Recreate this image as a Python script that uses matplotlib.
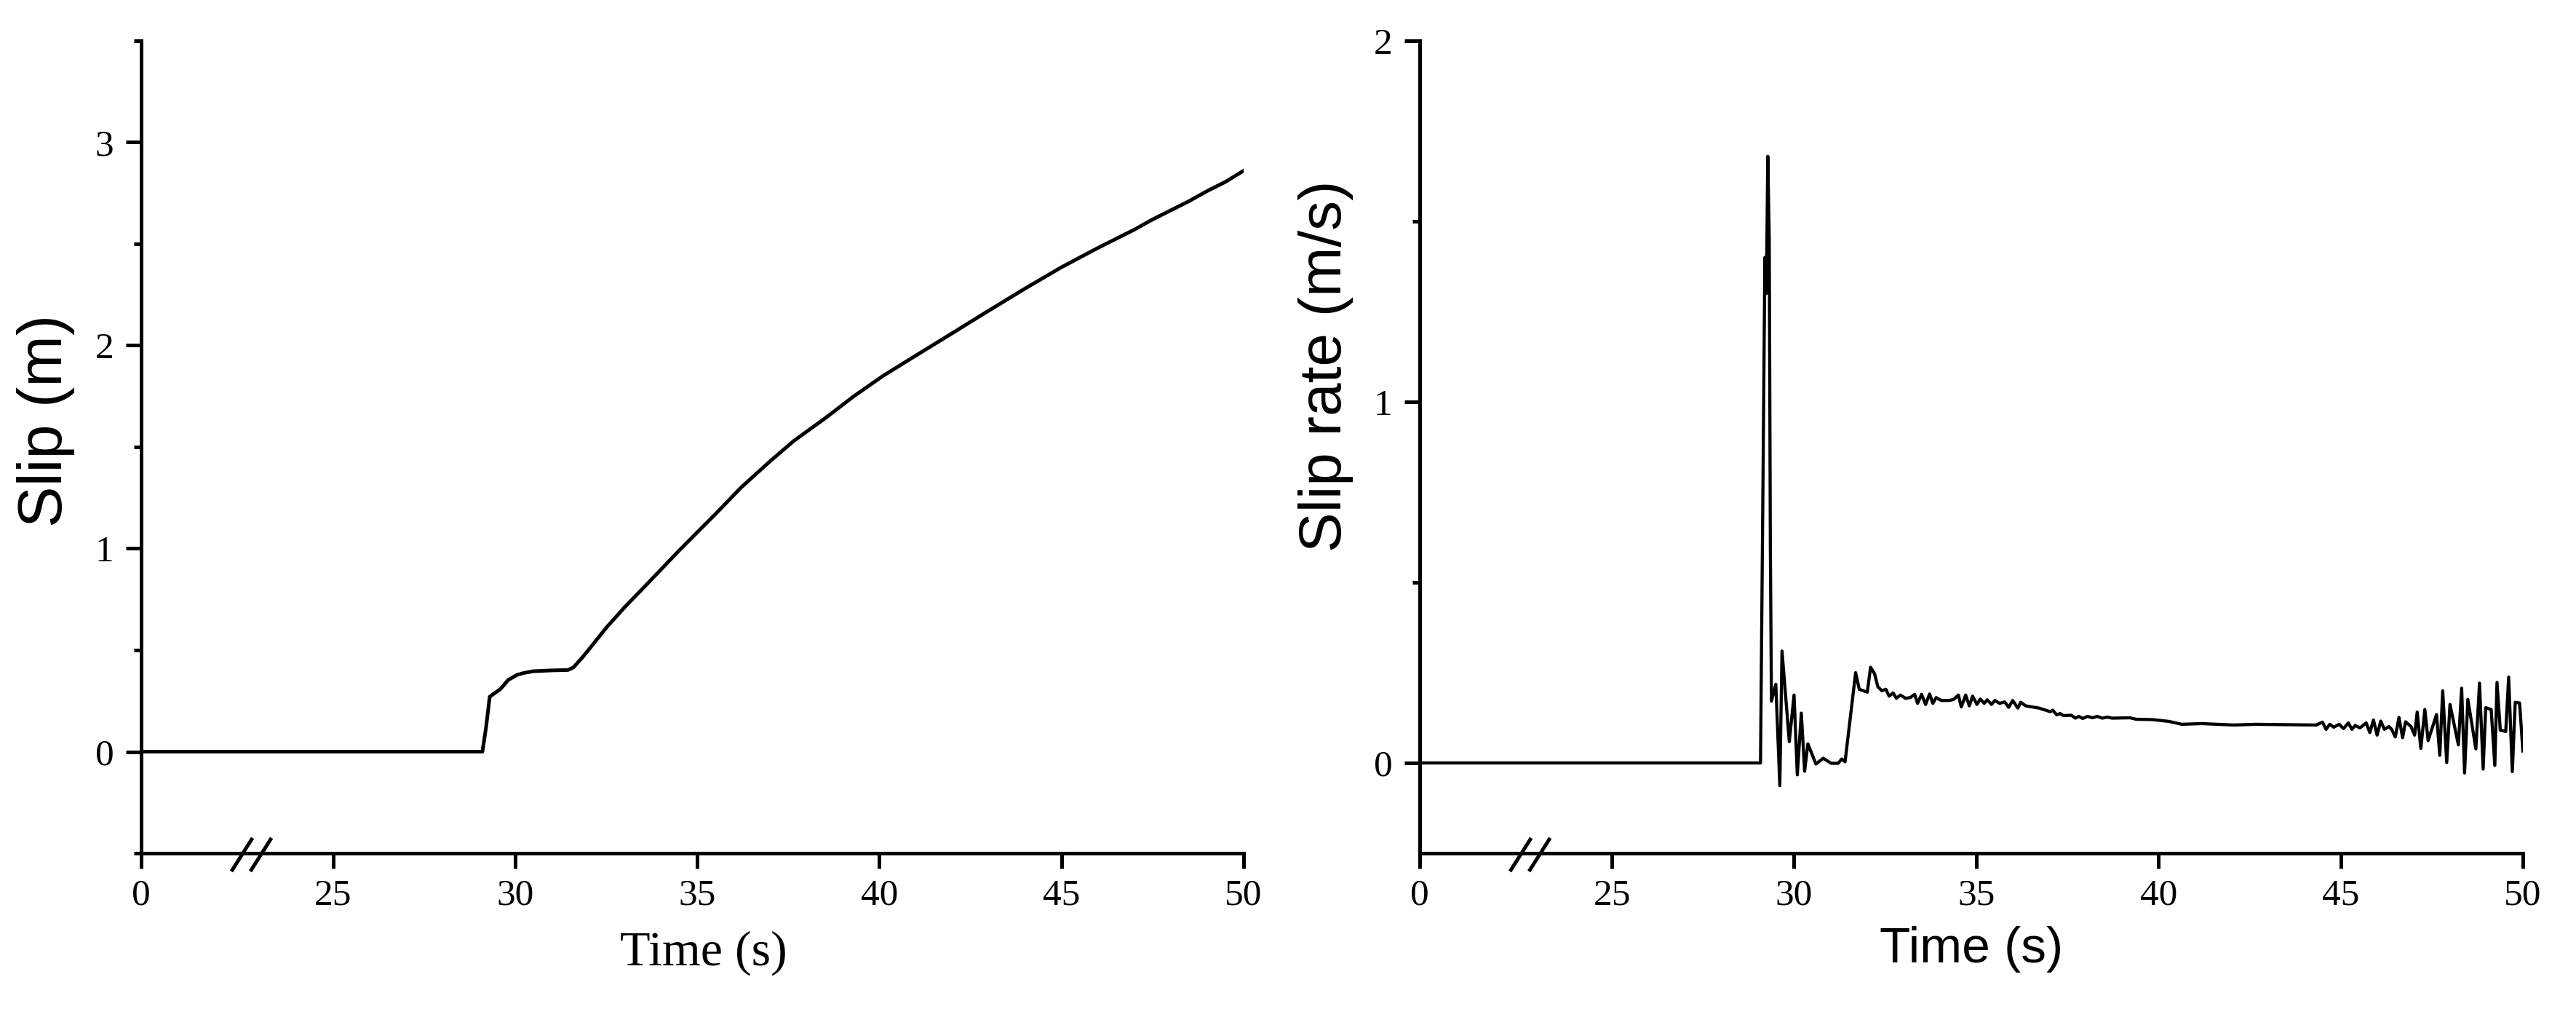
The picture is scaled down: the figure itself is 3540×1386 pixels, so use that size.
import numpy as np
import matplotlib
matplotlib.use("Agg")
import matplotlib.pyplot as plt
from matplotlib.ticker import MultipleLocator, FixedLocator

# Slip (m) vs time (s)
slip_t = [0, 29.10, 29.20, 29.30, 29.45, 29.58, 29.70, 29.80, 30.05, 30.25,
          30.50, 31.00, 31.45, 31.60, 31.85, 32.10, 32.50, 33.00, 33.70, 34.50,
          35.00, 35.50, 36.20, 37.00, 37.65, 38.50, 39.30, 40.10, 41.00, 42.00,
          42.90, 44.00, 45.00, 46.00, 47.00, 47.50, 48.00, 48.50, 49.00, 49.50,
          50.00]
slip_m = [0, 0, 0.12, 0.27, 0.29, 0.306, 0.33, 0.352, 0.378, 0.388,
          0.396, 0.400, 0.402, 0.415, 0.465, 0.52, 0.61, 0.71, 0.84, 0.99,
          1.08, 1.17, 1.30, 1.43, 1.53, 1.64, 1.75, 1.85, 1.95, 2.06,
          2.16, 2.28, 2.385, 2.48, 2.57, 2.62, 2.665, 2.71, 2.76, 2.805,
          2.86]

# Slip rate (m/s) vs time (s)
rate_t = [0, 29.08, 29.15, 29.20, 29.24, 29.28, 29.32, 29.35, 29.38, 29.50,
          29.61, 29.67, 29.87, 30.00, 30.09, 30.20, 30.29, 30.38, 30.60, 30.80,
          31.02, 31.21, 31.31, 31.40, 31.69, 31.79, 32.01, 32.10, 32.21, 32.30,
          32.41, 32.52, 32.61, 32.72, 32.81, 32.92, 33.06, 33.19, 33.31, 33.39,
          33.50, 33.61, 33.72, 33.81, 33.90, 34.04, 34.26, 34.38, 34.51, 34.59,
          34.71, 34.81, 34.90, 35.02, 35.11, 35.22, 35.30, 35.42, 35.51, 35.64,
          35.78, 35.89, 36.00, 36.14, 36.22, 36.36, 36.72, 37.03, 37.10, 37.21,
          37.30, 37.39, 37.61, 37.72, 37.82, 37.92, 38.05, 38.19, 38.32, 38.46,
          38.60, 38.72, 39.22, 39.39, 39.84, 40.29, 40.64, 41.18, 41.63, 42.07,
          42.67, 44.33, 44.50, 44.60, 44.70, 44.81, 44.96, 45.08, 45.21, 45.31,
          45.40, 45.53, 45.70, 45.80, 45.90, 46.00, 46.10, 46.20, 46.32, 46.40,
          46.50, 46.60, 46.70, 46.78, 46.93, 47.03, 47.10, 47.20, 47.31, 47.40,
          47.63, 47.72, 47.80, 47.91, 48.00, 48.23, 48.32, 48.40, 48.49, 48.71,
          48.81, 48.91, 48.98, 49.13, 49.23, 49.29, 49.38, 49.53, 49.61, 49.71,
          49.79, 49.91, 50.00]
rate_v = [0, 0, 0.80, 1.40, 1.30, 1.68, 1.45, 0.60, 0.171, 0.218,
          -0.063, 0.31, 0.059, 0.188, -0.033, 0.138, -0.023, 0.053, -0.003, 0.013,
          -0.001, -0.001, 0.011, 0.003, 0.25, 0.204, 0.196, 0.265, 0.247, 0.211,
          0.200, 0.204, 0.185, 0.194, 0.179, 0.188, 0.179, 0.181, 0.190, 0.165,
          0.190, 0.162, 0.191, 0.165, 0.181, 0.173, 0.173, 0.176, 0.188, 0.155,
          0.188, 0.158, 0.185, 0.162, 0.177, 0.165, 0.175, 0.162, 0.173, 0.165,
          0.169, 0.154, 0.173, 0.152, 0.168, 0.158, 0.152, 0.142, 0.146, 0.133,
          0.137, 0.131, 0.132, 0.124, 0.129, 0.123, 0.129, 0.125, 0.129, 0.124,
          0.127, 0.124, 0.125, 0.121, 0.120, 0.115, 0.107, 0.109, 0.107, 0.105,
          0.107, 0.105, 0.113, 0.093, 0.107, 0.099, 0.107, 0.095, 0.111, 0.093,
          0.104, 0.097, 0.111, 0.084, 0.119, 0.077, 0.116, 0.093, 0.101, 0.093,
          0.072, 0.126, 0.070, 0.114, 0.101, 0.077, 0.141, 0.040, 0.148, 0.062,
          0.134, 0.021, 0.200, 0.001, 0.162, 0.050, 0.207, -0.028, 0.176, 0.039,
          0.221, -0.017, 0.153, 0.148, -0.007, 0.223, 0.091, 0.087, 0.238, -0.024,
          0.168, 0.166, 0.033]

xticks = [0, 25, 30, 35, 40, 45, 50]

SERIF = "Liberation Serif"
SANS = "Liberation Sans"

# axis break: 0..25 s squeezed into a short stretch
k = 5.27 / 25.0


def fwd(x):
    x = np.asarray(x, dtype=float)
    return np.where(x < 25, 25 - (25 - x) * k, x)


def inv(y):
    y = np.asarray(y, dtype=float)
    return np.where(y < 25, 25 - (25 - y) / k, y)


fig = plt.figure(figsize=(35.41, 13.86), dpi=100)
ax1 = fig.add_axes([0.0548, 0.1544, 0.4278, 0.8052])
ax2 = fig.add_axes([0.5510, 0.1544, 0.4281, 0.8052])


def style(ax, ylim, ymaj):
    ax.set_xscale("function", functions=(fwd, inv))
    ax.set_xlim(0, 50)
    ax.set_ylim(*ylim)
    ax.xaxis.set_major_locator(FixedLocator(xticks))
    ax.xaxis.set_minor_locator(FixedLocator([]))
    ax.yaxis.set_major_locator(MultipleLocator(ymaj))
    ax.yaxis.set_minor_locator(MultipleLocator(ymaj / 2))
    ax.set_xticklabels([str(v) for v in xticks])
    for s in ("top", "right"):
        ax.spines[s].set_visible(False)
    for s in ("left", "bottom"):
        ax.spines[s].set_linewidth(3.6)
    ax.tick_params(which="major", length=15, width=3.6, direction="out", pad=10)
    ax.tick_params(which="minor", length=7, width=3.6, direction="out")
    ax.tick_params(axis="y", pad=12)
    for lab in ax.get_xticklabels() + ax.get_yticklabels():
        lab.set_fontfamily(SERIF)
        lab.set_fontsize(37)
    # break marks on the time axis
    for x0 in (0.0818, 0.0990):
        ax.plot([x0, x0 + 0.0192], [-0.0224, 0.0188], transform=ax.transAxes,
                color="black", lw=3.6, clip_on=False, solid_capstyle="butt")


style(ax1, (-0.5, 3.5), 1)
style(ax2, (-0.25, 2), 1)

ax1.plot(slip_t, slip_m, color="black", lw=3.6)
ax2.plot(rate_t, rate_v, color="black", lw=3.1)

ax1.set_ylabel("Slip (m)", fontfamily=SANS, fontsize=61)
ax1.yaxis.set_label_coords(-0.060, 0.532)
ax1.set_xlabel("Time (s)", fontfamily=SERIF, fontsize=49)
ax1.xaxis.set_label_coords(0.51, -0.095)

ax2.set_ylabel("Slip rate (m/s)", fontfamily=SANS, fontsize=59)
ax2.yaxis.set_label_coords(-0.060, 0.60)
ax2.set_xlabel("Time (s)", fontfamily=SANS, fontsize=50)
ax2.xaxis.set_label_coords(0.5, -0.09)

fig.savefig("out.png", dpi=100)
